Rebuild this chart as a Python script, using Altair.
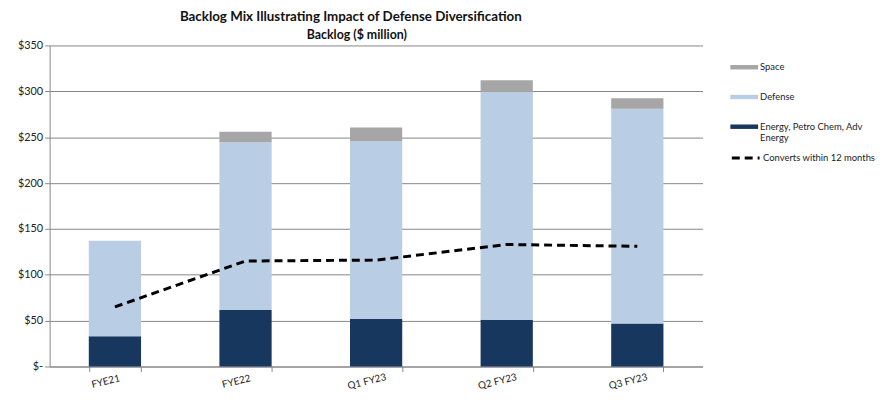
import altair as alt
import pandas as pd

categories = ["FYE21", "FYE22", "Q1 FY23", "Q2 FY23", "Q3 FY23"]
energy = [33, 62, 52, 51, 47]
defense = [104, 182.5, 193.5, 248.5, 234]
space = [0, 11.5, 15, 12.5, 11.5]
converts = [65, 115, 116, 133, 131]

series_names = ["Space", "Defense", "Energy, Petro Chem, Adv Energy"]
series_colors = ["#A6A6A6", "#B9CDE5", "#17375E"]
line_name = "Converts within 12 months"
title_text = "Backlog Mix Illustrating Impact of Defense Diversification"
subtitle_text = "Backlog ($ million)"

FONT = "Lato"

rows = []
for i, c in enumerate(categories):
    rows.append({"cat": c, "series": series_names[2], "value": energy[i], "ord": 0})
    rows.append({"cat": c, "series": series_names[1], "value": defense[i], "ord": 1})
    rows.append({"cat": c, "series": series_names[0], "value": space[i], "ord": 2})
bars_df = pd.DataFrame(rows)
line_df = pd.DataFrame({"cat": categories, "value": converts, "series": [line_name] * len(categories)})

x_enc = alt.X(
    "cat:N",
    sort=categories,
    scale=alt.Scale(paddingInner=0.6, paddingOuter=0.3),
    axis=alt.Axis(
        title=None,
        labelAngle=346,
        labelAlign="center",
        labelBaseline="top",
        labelPadding=5,
        labelOffset=-11,
        labelFontSize=10,
        labelColor="#222222",
        labelFont=FONT,
        tickBand="extent",
        tickSize=5,
        tickColor="#868686",
        domainColor="#868686",
        grid=False,
    ),
)

y_axis = alt.Axis(
    title=None,
    values=[0, 50, 100, 150, 200, 250, 300, 350],
    labelExpr="datum.value == 0 ? '$-' : '$' + datum.value",
    labelFontSize=11,
    labelFont=FONT,
    labelColor="#222222",
    labelPadding=2,
    tickSize=5,
    tickColor="#868686",
    domainColor="#868686",
    grid=True,
    gridColor="#868686",
    gridWidth=1,
)

bars = alt.Chart(bars_df).mark_bar().encode(
    x=x_enc,
    y=alt.Y("value:Q", stack="zero", scale=alt.Scale(domain=[0, 350], nice=False), axis=y_axis),
    color=alt.Color(
        "series:N",
        scale=alt.Scale(domain=series_names, range=series_colors),
        legend=alt.Legend(
            title=None,
            orient="none",
            legendX=687,
            legendY=8,
            padding=0,
            symbolType="M-1,-0.16L1,-0.16L1,0.16L-1,0.16Z",
            symbolSize=784,
            symbolStrokeWidth=0,
            labelOffset=2,
            labelFont=FONT,
            labelFontSize=9.5,
            labelColor="#222222",
            labelLimit=300,
            rowPadding=11,
            labelExpr="datum.label == 'Energy, Petro Chem, Adv Energy' ? ['Energy, Petro Chem, Adv', 'Energy'] : datum.label",
        ),
    ),
    order=alt.Order("ord:Q", sort="ascending"),
)

line = alt.Chart(line_df).mark_line(color="black", strokeWidth=3).encode(
    x=alt.X("cat:N", sort=categories),
    y=alt.Y("value:Q"),
    strokeDash=alt.StrokeDash(
        "series:N",
        scale=alt.Scale(domain=[line_name], range=[[8, 5]]),
        legend=alt.Legend(
            title=None,
            orient="none",
            legendX=687,
            legendY=98,
            padding=0,
            symbolType="stroke",
            symbolSize=784,
            symbolStrokeWidth=3,
            symbolStrokeColor="black",
            symbolDash=[7, 4],
            labelOffset=2,
            labelFont=FONT,
            labelFontSize=9.5,
            labelColor="#222222",
            labelLimit=300,
        ),
    ),
)

title = alt.Chart(pd.DataFrame({"t": [title_text]})).mark_text(
    font=FONT, fontSize=13.5, fontWeight="bold", color="#111111", align="center", baseline="middle"
).encode(x=alt.value(304), y=alt.value(-29), text="t:N")

subtitle = alt.Chart(pd.DataFrame({"t": [subtitle_text]})).mark_text(
    font=FONT, fontSize=12.5, fontWeight="bold", color="#111111", align="center", baseline="middle"
).encode(x=alt.value(310), y=alt.value(-11), text="t:N")

chart = alt.layer(bars, line, title, subtitle).properties(
    width=659,
    height=324,
    padding={"left": 42, "top": 36, "right": 177, "bottom": 30},
    autosize=alt.AutoSizeParams(type="none"),
    background="white",
).resolve_scale(color="independent").configure_view(strokeWidth=0, stroke="transparent")

chart.save("out.html", embed_options={"renderer": "svg", "actions": False})
